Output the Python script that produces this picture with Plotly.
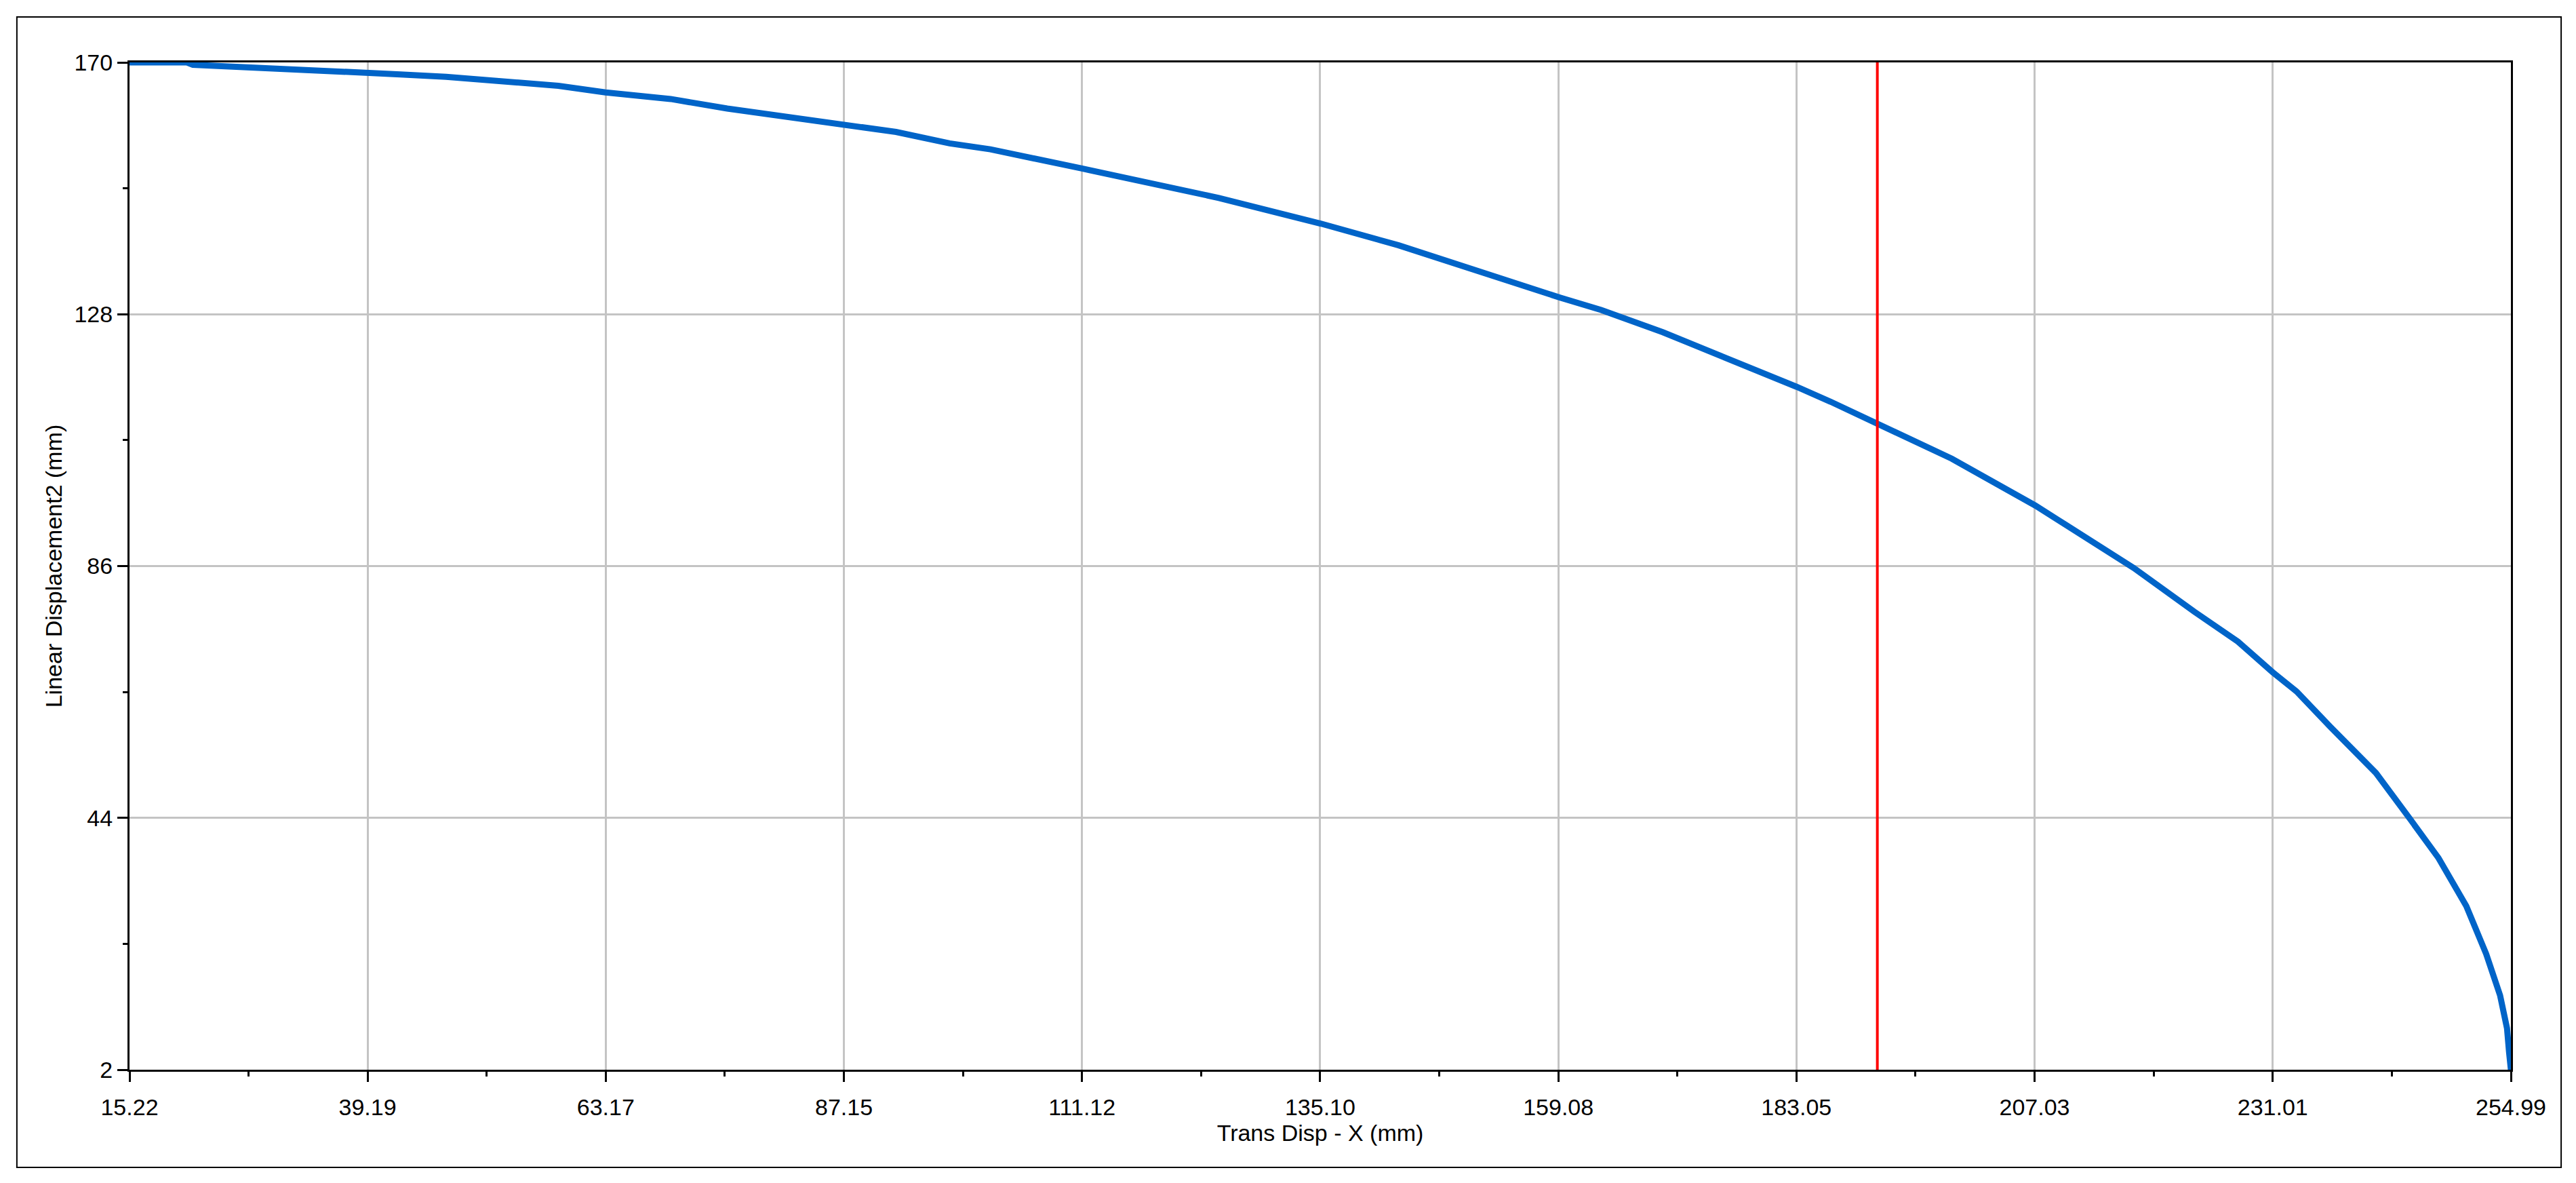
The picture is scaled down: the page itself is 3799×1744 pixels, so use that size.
import plotly.graph_objects as go

# curve
trans_disp_x = [15.22, 21.0, 21.6, 26.1, 30.1, 39.15, 42.5, 47.1, 58.4, 63.15,
                69.7, 75.4, 87.1, 92.4, 97.8, 101.9, 111.12, 116.4, 124.9, 135.2,
                143.0, 159.2, 163.4, 169.6, 177.0, 183.07, 186.5, 191.2, 198.7, 207.1,
                213.9, 217.0, 223.1, 227.5, 231.0, 233.4, 236.8, 241.4, 244.8, 247.7,
                250.5, 252.5, 253.9, 254.6, 254.8, 254.99]
lin_disp2 = [170.0, 170.0, 169.6, 169.3, 169.0, 168.2, 168.0, 167.6, 166.1, 165.0,
             163.9, 162.3, 159.7, 158.4, 156.5, 155.5, 152.3, 150.4, 147.4, 143.1,
             139.5, 130.8, 128.7, 125.0, 120.1, 115.9, 113.4, 109.7, 103.9, 96.1,
             88.75, 85.7, 78.4, 73.4, 68.3, 65.1, 59.2, 51.5, 43.9, 37.3,
             29.3, 21.3, 14.4, 8.9, 5.0, 2.0]

# cursor line
cursor_x = 191.2

x_ticks = [15.22, 39.19, 63.17, 87.15, 111.12, 135.10, 159.08, 183.05, 207.03, 231.01, 254.99]
x_ticklabels = ["15.22", "39.19", "63.17", "87.15", "111.12", "135.10", "159.08", "183.05", "207.03", "231.01", "254.99"]
x_minor = [27.205, 51.18, 75.16, 99.135, 123.11, 147.09, 171.065, 195.04, 219.02, 242.99]
y_ticks = [2, 44, 86, 128, 170]
y_ticklabels = ["2", "44", "86", "128", "170"]
y_minor = [23, 65, 107, 149]

x_range = [15.22, 254.99]
y_range = [2, 170]

FONT = "Liberation Sans, Arial, sans-serif"

fig = go.Figure()
fig.add_trace(go.Scatter(x=trans_disp_x, y=lin_disp2, mode="lines",
                         line=dict(color="#0064C8", width=9), showlegend=False))
fig.add_trace(go.Scatter(x=[cursor_x, cursor_x], y=y_range, mode="lines",
                         line=dict(color="#FF0000", width=4), showlegend=False))

# page body has an 8px margin, so the figure is a little smaller than the window
fig.update_layout(
    width=3791, height=1736,
    margin=dict(l=183, r=96, t=84, b=167),
    plot_bgcolor="white", paper_bgcolor="white",
    font=dict(family=FONT, size=34, color="black"),
    showlegend=False,
)

fig.update_xaxes(
    range=x_range, tickvals=x_ticks, ticktext=x_ticklabels,
    showline=True, linecolor="black", linewidth=3, mirror=True,
    ticks="outside", ticklen=15, tickwidth=3, tickcolor="black",
    showgrid=True, gridcolor="#C4C4C4", gridwidth=3,
    zeroline=False, ticklabelstandoff=8,
    minor=dict(tickvals=x_minor, ticks="outside", ticklen=7, tickwidth=3, tickcolor="black", showgrid=False),
    title=dict(text="Trans Disp - X (mm)", font=dict(size=34), standoff=6),
    tickfont=dict(size=34),
)
fig.update_yaxes(
    range=y_range, tickvals=y_ticks, ticktext=y_ticklabels,
    showline=True, linecolor="black", linewidth=3, mirror=True,
    ticks="outside", ticklen=15, tickwidth=3, tickcolor="black",
    showgrid=True, gridcolor="#C4C4C4", gridwidth=3,
    zeroline=False,
    minor=dict(tickvals=y_minor, ticks="outside", ticklen=7, tickwidth=3, tickcolor="black", showgrid=False),
    title=dict(text="Linear Displacement2 (mm)", font=dict(size=34), standoff=8),
    tickfont=dict(size=34),
)

# inner half of the crossing minor ticks
fig.update_layout(
    xaxis2=dict(overlaying="x", anchor="y", side="bottom", range=x_range,
                tickvals=x_minor, ticks="inside", ticklen=7, tickwidth=3, tickcolor="black",
                showticklabels=False, showgrid=False, showline=False, zeroline=False),
    yaxis2=dict(overlaying="y", anchor="x", side="left", range=y_range,
                tickvals=y_minor, ticks="inside", ticklen=7, tickwidth=3, tickcolor="black",
                showticklabels=False, showgrid=False, showline=False, zeroline=False),
)

# outer chart frame
fig.add_shape(type="rect", xref="paper", yref="paper",
              x0=-0.0473, x1=1.0211, y0=-0.097, y1=1.0451,
              line=dict(color="black", width=2), layer="below")

fig.write_html("out.html")
